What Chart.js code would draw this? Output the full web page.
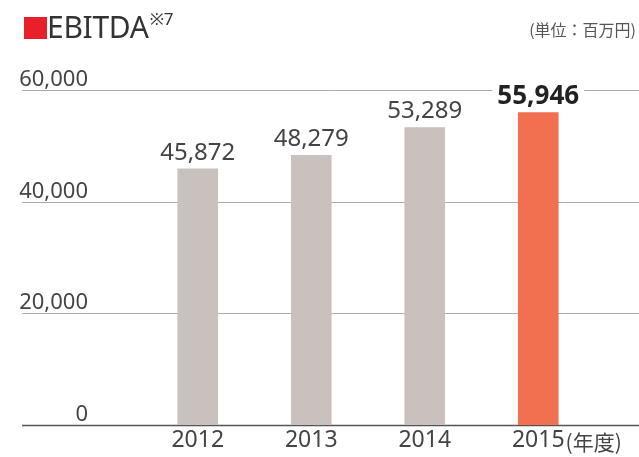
<!DOCTYPE html>
<html>
<head>
<meta charset="utf-8">
<script src="https://cdn.jsdelivr.net/npm/chart.js@4"></script>
<style>
  html, body { margin: 0; padding: 0; background: #fff; }
  #wrap { position: relative; width: 639px; height: 457px; }
  #chart { position: absolute; left: 0; top: 0; }
  .title { position: absolute; left: 24px; top: 6px; font-family: "Noto Sans", sans-serif; font-size: 30px; color: #333; letter-spacing: -0.3px; white-space: nowrap; }
  .title .mark { display: inline-block; width: 23px; height: 22px; background: #e8202a; vertical-align: -1px; }
  .title sup { font-size: 17px; vertical-align: 13px; line-height: 0; margin-left: 1px; }
  .unit { position: absolute; right: 3px; top: 17px; font-family: "Noto Sans CJK JP", sans-serif; font-size: 16px; color: #555; white-space: nowrap; }
</style>
</head>
<body>
<div id="wrap">
  <canvas id="chart" width="639" height="457"></canvas>
  <div class="title"><span class="mark"></span>EBITDA<sup>※7</sup></div>
  <div class="unit">(単位：百万円)</div>
</div>
<script>
const years = ['2012', '2013', '2014', '2015']
const ebitda = [45872, 48279, 53289, 55946]
const yTicks = [0, 20000, 40000, 60000]
const barColors = ['#c9c1bd', '#c9c1bd', '#c9c1bd', '#f07050']
const xSuffix = '(年度)'

const fmt = v => v.toLocaleString('en-US')

// grid lines run across the whole width, labels sit above the lines
const gridPlugin = {
    id: 'fullGrid',
    beforeDatasetsDraw(chart) {
        const ctx = chart.ctx
        const y = chart.scales.y
        ctx.save()
        yTicks.forEach(t => {
            const py = Math.round(y.getPixelForValue(t)) + 0.5
            ctx.beginPath()
            ctx.moveTo(22, py)
            ctx.lineTo(639, py)
            ctx.lineWidth = t === 0 ? 1.5 : 1
            ctx.strokeStyle = t === 0 ? '#555' : '#aaaaaa'
            ctx.stroke()
            ctx.fillStyle = '#444'
            ctx.font = '22px "Noto Sans", sans-serif'
            ctx.textAlign = 'right'
            ctx.textBaseline = 'alphabetic'
            ctx.fillText(fmt(t), 88, py - 5)
        })
        ctx.restore()
    },
    afterDatasetsDraw(chart) {
        const ctx = chart.ctx
        const meta = chart.getDatasetMeta(0)
        ctx.save()
        ctx.textAlign = 'center'
        ctx.textBaseline = 'alphabetic'
        meta.data.forEach((bar, i) => {
            const last = i === ebitda.length - 1
            const txt = fmt(ebitda[i])
            ctx.font = last ? 'bold 26px "Noto Sans", sans-serif' : '24px "Noto Sans", sans-serif'
            const w = ctx.measureText(txt).width
            const by = bar.y - 9
            if (last) {
                ctx.fillStyle = '#fff'
                ctx.fillRect(bar.x - w / 2 - 5, by - 21, w + 10, 23)
            }
            ctx.fillStyle = last ? '#222' : '#444'
            ctx.fillText(txt, bar.x, by)
        })
        // suffix after the last year label
        const x = chart.scales.x
        const lastX = x.getPixelForValue(years.length - 1)
        ctx.font = '23px "Noto Sans", sans-serif'
        const yw = ctx.measureText(years[years.length - 1]).width
        ctx.font = '21px "Noto Sans CJK JP", sans-serif'
        ctx.textAlign = 'left'
        ctx.fillStyle = '#444'
        ctx.fillText(xSuffix, lastX + yw / 2 + 1, 450)
        ctx.restore()
    }
}

new Chart(document.getElementById('chart'), {
    type: 'bar',
    data: {
        labels: years,
        datasets: [{
            data: ebitda,
            backgroundColor: barColors,
            barThickness: 40
        }]
    },
    options: {
        responsive: false,
        animation: false,
        layout: { padding: { left: 141, right: 44, top: 90, bottom: 0 } },
        plugins: {
            legend: { display: false },
            tooltip: { enabled: false }
        },
        scales: {
            x: {
                grid: { display: false, drawTicks: false },
                border: { display: false },
                ticks: {
                    color: '#444',
                    font: { family: '"Noto Sans", sans-serif', size: 23 },
                    padding: 2
                },
                afterFit(scale) { scale.height = 32 }
            },
            y: {
                min: 0,
                max: 60000,
                display: false
            }
        }
    },
    plugins: [gridPlugin]
})
</script>
</body>
</html>
